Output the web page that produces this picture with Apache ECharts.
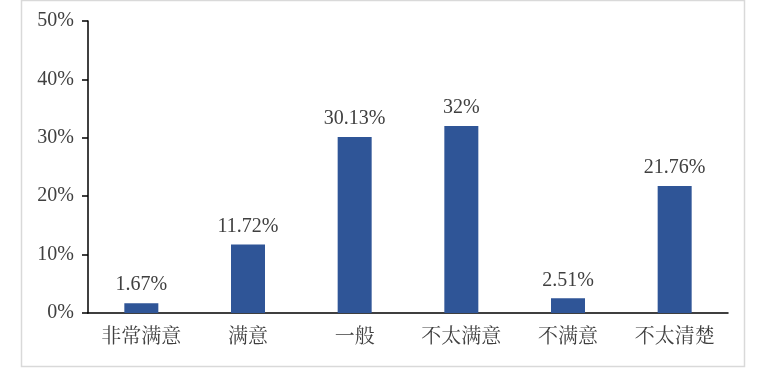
<!DOCTYPE html>
<html><head><meta charset="utf-8">
<script src="https://cdn.jsdelivr.net/npm/echarts@6/dist/echarts.min.js"></script>
<style>html,body{margin:0;padding:0;background:#fff}#c{width:774px;height:379px}</style>
</head><body><div id="c"></div>
<script>
const categories = ['非常满意', '满意', '一般', '不太满意', '不满意', '不太清楚'];
const values = [1.67, 11.72, 30.13, 32, 2.51, 21.76];
const valueLabels = ['1.67%', '11.72%', '30.13%', '32%', '2.51%', '21.76%'];
const yTicks = [0, 10, 20, 30, 40, 50];

const fontFam = '"Liberation Serif", "Noto Serif CJK SC", "Noto Sans CJK SC", serif';
const chart = echarts.init(document.getElementById('c'));
chart.setOption({
  animation: false,
  backgroundColor: '#fff',
  graphic: [{
    type: 'rect', shape: {x: 21.5, y: 0.5, width: 723, height: 366},
    style: {fill: 'none', stroke: '#d9d9d9', lineWidth: 1.5}, silent: true, z: -1
  }],
  grid: {left: 88, right: 46, top: 21, bottom: 66},
  xAxis: {
    type: 'category', data: categories,
    axisLine: {lineStyle: {color: '#000', width: 1.5}},
    axisTick: {show: false},
    axisLabel: {color: '#404040', fontSize: 20, fontFamily: fontFam, margin: 15}
  },
  yAxis: {
    type: 'value', min: yTicks[0], max: yTicks[yTicks.length - 1], interval: 10,
    axisLine: {show: true, lineStyle: {color: '#000', width: 1.5}},
    axisTick: {show: true, length: 6, lineStyle: {color: '#000', width: 1.5}},
    splitLine: {show: false},
    axisLabel: {color: '#404040', fontSize: 20, fontFamily: fontFam, margin: 14,
      formatter: v => v + '%'}
  },
  series: [{
    type: 'bar', data: values, barWidth: 34,
    itemStyle: {color: '#2f5597'},
    label: {show: true, position: 'top', distance: 8, color: '#404040', fontSize: 20,
      fontFamily: fontFam, formatter: p => valueLabels[p.dataIndex]}
  }]
});
</script></body></html>
